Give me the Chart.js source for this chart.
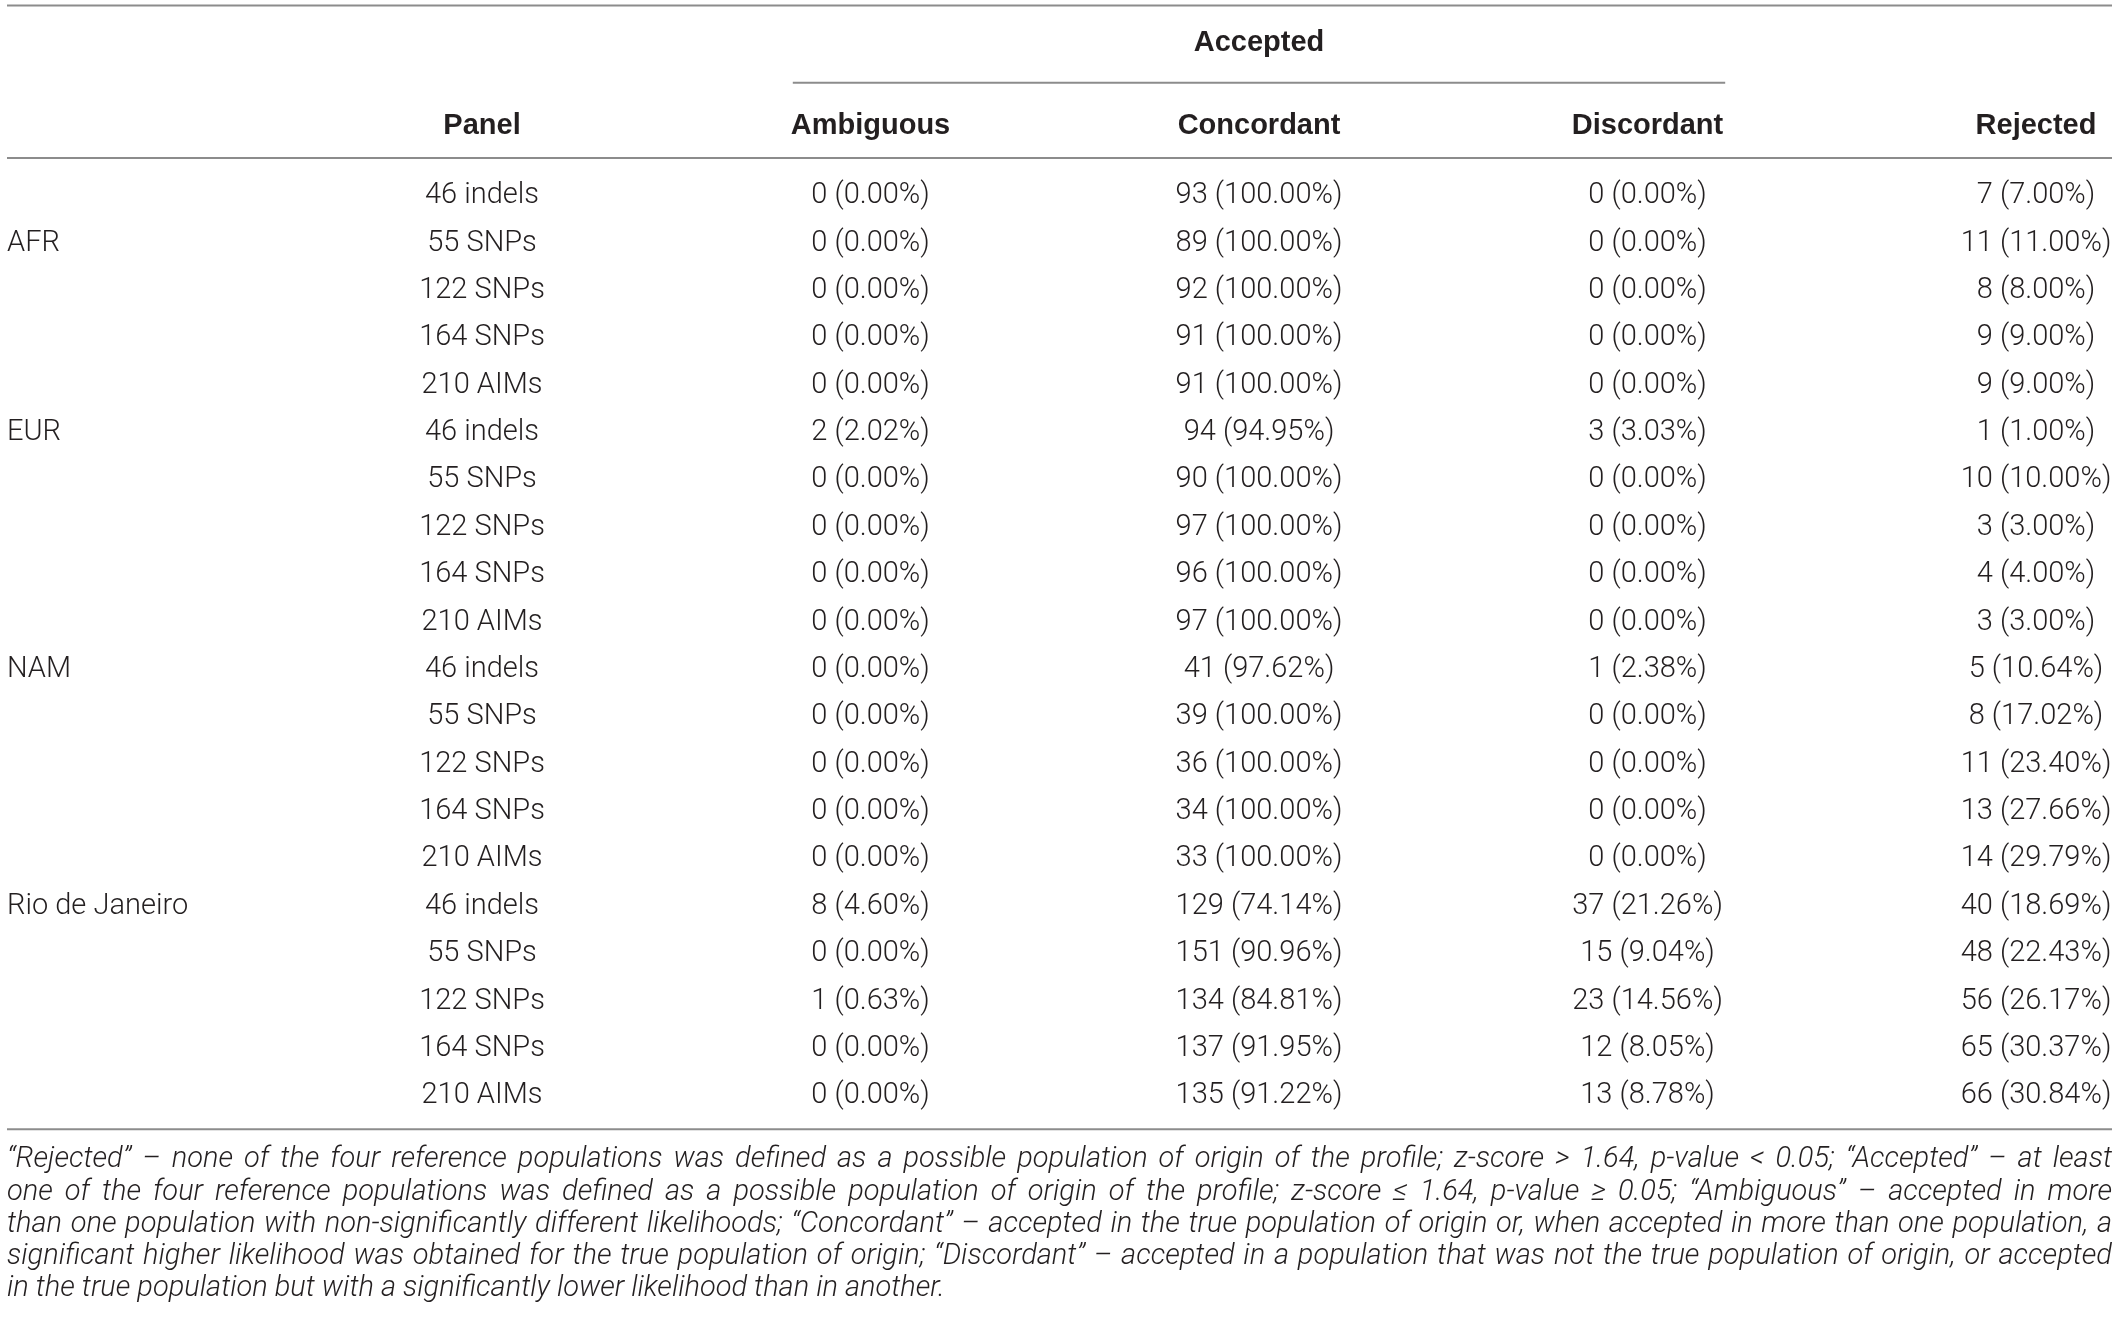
<!DOCTYPE html>
<html>
<head>
<meta charset="utf-8">
<script src="https://cdn.jsdelivr.net/npm/chart.js@4.4.1/dist/chart.umd.min.js"></script>
<style>
  html, body { margin: 0; padding: 0; background: #ffffff; }
  #wrap { width: 2118px; height: 1327px; position: relative; }
</style>
</head>
<body>
<div id="wrap"><canvas id="tableChart"></canvas></div>
<script>

// table data
const groups = ['AFR', 'EUR', 'NAM', 'Rio de Janeiro'];
const groupLabelRow = [1, 5, 10, 15];
const panels = ['46 indels', '55 SNPs', '122 SNPs', '164 SNPs', '210 AIMs'];
const columns = ['Panel', 'Ambiguous', 'Concordant', 'Discordant', 'Rejected'];

const ambiguousN = [0, 0, 0, 0, 0,   2, 0, 0, 0, 0,   0, 0, 0, 0, 0,   8, 0, 1, 0, 0];
const ambiguousPct = [0, 0, 0, 0, 0,   2.02, 0, 0, 0, 0,   0, 0, 0, 0, 0,   4.60, 0, 0.63, 0, 0];

const concordantN = [93, 89, 92, 91, 91,   94, 90, 97, 96, 97,   41, 39, 36, 34, 33,   129, 151, 134, 137, 135];
const concordantPct = [100, 100, 100, 100, 100,   94.95, 100, 100, 100, 100,   97.62, 100, 100, 100, 100,   74.14, 90.96, 84.81, 91.95, 91.22];

const discordantN = [0, 0, 0, 0, 0,   3, 0, 0, 0, 0,   1, 0, 0, 0, 0,   37, 15, 23, 12, 13];
const discordantPct = [0, 0, 0, 0, 0,   3.03, 0, 0, 0, 0,   2.38, 0, 0, 0, 0,   21.26, 9.04, 14.56, 8.05, 8.78];

const rejectedN = [7, 11, 8, 9, 9,   1, 10, 3, 4, 3,   5, 8, 11, 13, 14,   40, 48, 56, 65, 66];
const rejectedPct = [7, 11, 8, 9, 9,   1, 10, 3, 4, 3,   10.64, 17.02, 23.40, 27.66, 29.79,   18.69, 22.43, 26.17, 30.37, 30.84];

const footnoteLines = [
    '\u201CRejected\u201D \u2013 none of the four reference populations was defined as a possible population of origin of the profile; z-score > 1.64, p-value < 0.05; \u201CAccepted\u201D \u2013 at least',
    'one of the four reference populations was defined as a possible population of origin of the profile; z-score \u2264 1.64, p-value \u2265 0.05; \u201CAmbiguous\u201D \u2013 accepted in more',
    'than one population with non-significantly different likelihoods; \u201CConcordant\u201D \u2013 accepted in the true population of origin or, when accepted in more than one population, a',
    'significant higher likelihood was obtained for the true population of origin; \u201CDiscordant\u201D \u2013 accepted in a population that was not the true population of origin, or accepted',
    'in the true population but with a significantly lower likelihood than in another.'
];


// one label per table row for the y scale
const rowLabels = [];
groups.forEach(g => panels.forEach(p => rowLabels.push(g + ' ' + p)));

function cellText(n, pct) {
    return n + ' (' + pct.toFixed(2) + '%)';
}

const textColor = '#231f20';
const ruleColor = '#8c8c8c';
const bodyFont = '300 29px Roboto';
const headFont = 'bold 29px "Liberation Sans"';

function hRule(ctx, x1, x2, y) {
    ctx.save();
    ctx.strokeStyle = ruleColor;
    ctx.lineWidth = 2;
    ctx.beginPath();
    ctx.moveTo(x1, y);
    ctx.lineTo(x2, y);
    ctx.stroke();
    ctx.restore();
}

// justified line of text, word by word
function justifyLine(ctx, line, x1, x2, y, justify) {
    if (!justify) {
        ctx.fillText(line, x1, y);
        return;
    }
    const words = line.split(' ');
    let wordsWidth = 0;
    words.forEach(w => wordsWidth += ctx.measureText(w).width);
    const gap = (x2 - x1 - wordsWidth) / (words.length - 1);
    let cx = x1;
    words.forEach(w => {
        ctx.fillText(w, cx, y);
        cx += ctx.measureText(w).width + gap;
    });
}

const tablePlugin = {
    id: 'tablePlugin',
    beforeDraw(chart) {
        const ctx = chart.ctx;
        ctx.save();
        ctx.fillStyle = '#ffffff';
        ctx.fillRect(0, 0, chart.width, chart.height);
        ctx.restore();
    },
    afterDraw(chart) {
        const ctx = chart.ctx;
        const xs = chart.scales.x;
        const ys = chart.scales.y;
        const pitch = ys.getPixelForValue(1) - ys.getPixelForValue(0);
        const step = xs.getPixelForValue(1) - xs.getPixelForValue(0);
        const firstRow = ys.getPixelForValue(0);
        const lastRow = ys.getPixelForValue(rowLabels.length - 1);
        const leftEdge = 7;
        const rightEdge = chart.width - 6;

        ctx.save();
        ctx.fillStyle = textColor;
        ctx.textBaseline = 'middle';

        // header block
        const headerY = firstRow - pitch * 1.48;
        const acceptedY = firstRow - pitch * 3.22;
        hRule(ctx, leftEdge, rightEdge, firstRow - pitch * 4.02);
        hRule(ctx, xs.getPixelForValue(1) - step * 0.2, xs.getPixelForValue(3) + step * 0.2, firstRow - pitch * 2.39);
        hRule(ctx, leftEdge, rightEdge, firstRow - pitch * 0.8);

        ctx.font = headFont;
        ctx.textAlign = 'center';
        ctx.fillText('Accepted', xs.getPixelForValue(2), acceptedY);
        columns.forEach((c, i) => ctx.fillText(c, xs.getPixelForValue(i), headerY));

        // body rows
        ctx.font = bodyFont;
        rowLabels.forEach((r, i) => {
            const y = ys.getPixelForValue(i);
            ctx.textAlign = 'center';
            ctx.fillText(panels[i % panels.length], xs.getPixelForValue(0), y);
            ctx.fillText(cellText(ambiguousN[i], ambiguousPct[i]), xs.getPixelForValue(1), y);
            ctx.fillText(cellText(concordantN[i], concordantPct[i]), xs.getPixelForValue(2), y);
            ctx.fillText(cellText(discordantN[i], discordantPct[i]), xs.getPixelForValue(3), y);
            ctx.fillText(cellText(rejectedN[i], rejectedPct[i]), xs.getPixelForValue(4), y);
        });

        ctx.textAlign = 'left';
        groups.forEach((g, k) => {
            ctx.fillText(g, leftEdge, ys.getPixelForValue(groupLabelRow[k]));
        });

        // bottom rule + footnote
        const bottomRule = lastRow + pitch * 0.7;
        hRule(ctx, leftEdge, rightEdge, bottomRule);

        // pick the largest italic size that keeps every full line inside the width
        let noteSize = 29;
        const fits = () => footnoteLines.slice(0, -1).every(l => ctx.measureText(l).width <= rightEdge - leftEdge);
        ctx.font = 'italic 300 ' + noteSize + 'px Roboto';
        while (!fits() && noteSize > 16) {
            noteSize -= 0.5;
            ctx.font = 'italic 300 ' + noteSize + 'px Roboto';
        }
        ctx.textAlign = 'left';
        footnoteLines.forEach((line, i) => {
            const y = bottomRule + 31 + i * 32.2;
            justifyLine(ctx, line, leftEdge, rightEdge, y, i < footnoteLines.length - 1);
        });
        ctx.restore();
    }
};

const tableChart = new Chart(document.getElementById('tableChart'), {
    type: 'bar',
    data: {
        labels: columns,
        datasets: []
    },
    options: {
        responsive: true,
        maintainAspectRatio: false,
        animation: false,
        devicePixelRatio: 1,
        layout: {
            padding: { left: 482, right: 82, top: 196, bottom: 231 }
        },
        plugins: {
            legend: { display: false },
            tooltip: { enabled: false }
        },
        scales: {
            x: {
                type: 'category',
                labels: columns,
                offset: false,
                display: false
            },
            y: {
                type: 'category',
                labels: rowLabels,
                offset: false,
                display: false
            }
        }
    },
    plugins: [tablePlugin]
});
</script>
</body>
</html>
